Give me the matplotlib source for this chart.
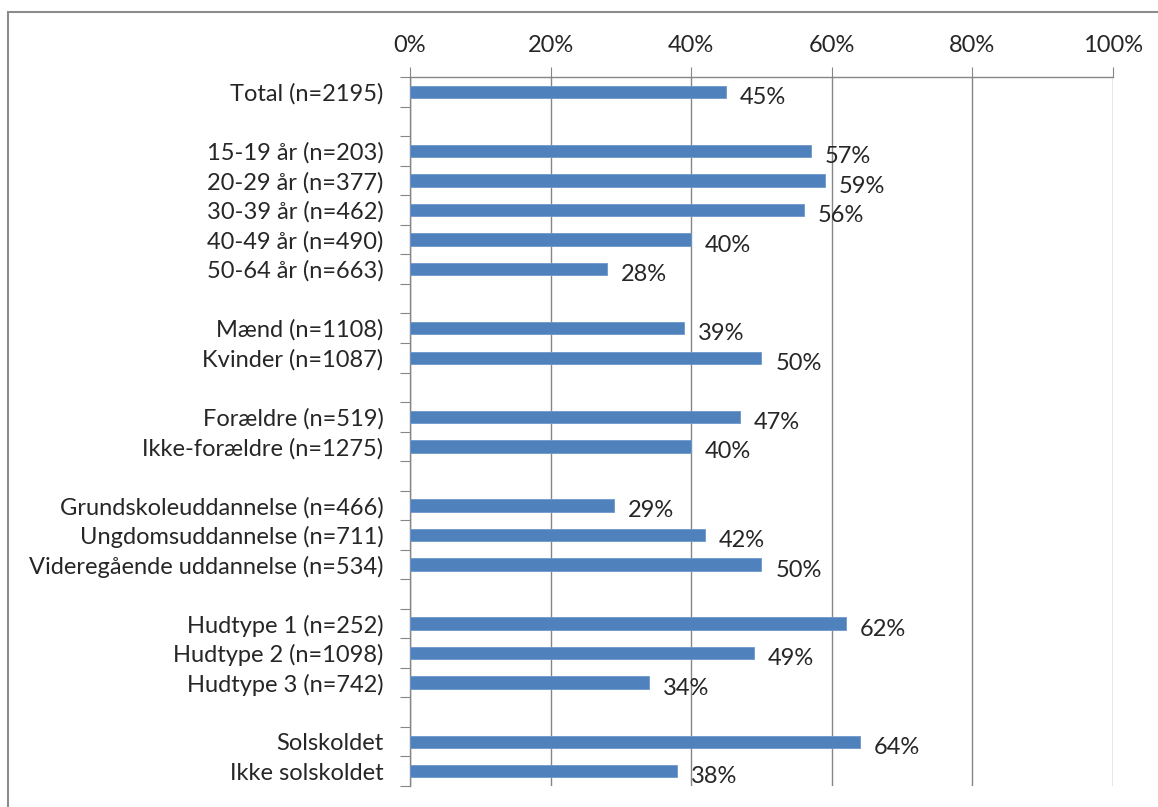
import matplotlib
matplotlib.use("Agg")
import matplotlib.pyplot as plt
from matplotlib.patches import Rectangle

plt.rcParams['font.family'] = ['Lato', 'DejaVu Sans']

# groups of (label, percent); blank rows separate the groups
groups = [
    [("Total (n=2195)", 45)],
    [("15-19 år (n=203)", 57), ("20-29 år (n=377)", 59), ("30-39 år (n=462)", 56),
     ("40-49 år (n=490)", 40), ("50-64 år (n=663)", 28)],
    [("Mænd (n=1108)", 39), ("Kvinder (n=1087)", 50)],
    [("Forældre (n=519)", 47), ("Ikke-forældre (n=1275)", 40)],
    [("Grundskoleuddannelse (n=466)", 29), ("Ungdomsuddannelse (n=711)", 42),
     ("Videregående uddannelse (n=534)", 50)],
    [("Hudtype 1 (n=252)", 62), ("Hudtype 2 (n=1098)", 49), ("Hudtype 3 (n=742)", 34)],
    [("Solskoldet", 64), ("Ikke solskoldet", 38)],
]
xticks = [0, 20, 40, 60, 80, 100]

labels, values, ypos = [], [], []
slot = 0
for gi, g in enumerate(groups):
    if gi > 0:
        slot += 1  # empty row between groups
    for lab, v in g:
        labels.append(lab)
        values.append(v)
        ypos.append(slot)
        slot += 1
nslots = slot

FS = 17
TXT = '#262626'

fig = plt.figure(figsize=(11.58, 8.07), dpi=100)
ax = fig.add_axes([0.354, 0.026, 0.607, 0.8784])

ax.barh(ypos, values, height=0.42, color='#4F81BD', edgecolor='#6f97c9', linewidth=0.6, zorder=3)
for y, v in zip(ypos, values):
    ax.annotate(f"{v}%", (v, y), xytext=(10, -4), textcoords='offset points',
                ha='left', va='center', fontsize=FS, color=TXT, zorder=4)

ax.set_xlim(0, 100)
ax.set_ylim(nslots - 0.5, -0.5)
ax.xaxis.tick_top()
ax.set_xticks(xticks)
ax.set_xticklabels([f"{t}%" for t in xticks], fontsize=FS, color=TXT)
ax.tick_params(axis='x', length=7, color='#868686', pad=8)
ax.grid(axis='x', color='#868686', linewidth=1.0, zorder=0)

ax.set_yticks([b - 0.5 for b in range(nslots + 1)])
ax.set_yticklabels([])
ax.tick_params(axis='y', which='major', length=7, color='#868686')
ax.set_yticks(ypos, minor=True)
ax.set_yticklabels(labels, minor=True, fontsize=FS, color=TXT)
ax.tick_params(axis='y', which='minor', length=0, pad=19)

for s in ['right', 'bottom']:
    ax.spines[s].set_visible(False)
for s in ['top', 'left']:
    ax.spines[s].set_color('#868686')
    ax.spines[s].set_linewidth(1.0)

# thin frame around the chart area
fig.patches.append(Rectangle((8 / 1158, -0.01), 1.05, 1 - 12 / 807 + 0.01,
                             transform=fig.transFigure, fill=False,
                             edgecolor='#8c8c8c', linewidth=1.5))

fig.savefig("out.png", dpi=100)
